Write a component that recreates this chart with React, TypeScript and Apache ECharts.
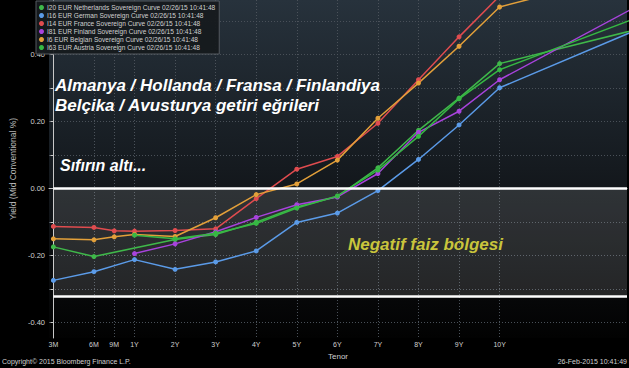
import React, { useEffect, useRef } from "react";
import * as echarts from "echarts";

// Tenor labels and their positions on the (irregular) Bloomberg tenor axis
const tenorLabels = ["3M", "6M", "9M", "1Y", "2Y", "3Y", "4Y", "5Y", "6Y", "7Y", "8Y", "9Y", "10Y", "15Y"];
const tenorPos = [0, 1, 1.5, 2, 3, 4, 5, 6, 7, 8, 9, 10, 11, 16];

// Yields (Mid Conventional %), null = no point for that tenor
const netherlands = [-0.174, -0.203, null, null, -0.152, -0.137, -0.1, -0.055, -0.024, 0.062, 0.174, 0.27, 0.373, 0.524];
const germany = [-0.274, -0.248, null, -0.212, -0.241, -0.219, -0.186, -0.101, -0.073, -0.006, 0.087, 0.19, 0.301, 0.557];
const france = [-0.113, -0.116, -0.126, -0.127, -0.125, -0.12, -0.03, 0.058, 0.096, 0.195, 0.325, 0.453, 0.575, 0.72];
const finland = [null, null, null, -0.194, -0.165, -0.129, -0.086, -0.048, -0.025, 0.045, 0.168, 0.231, 0.325, 0.649];
const belgium = [-0.15, -0.153, -0.144, -0.137, -0.143, -0.087, -0.018, 0.014, 0.085, 0.21, 0.315, 0.425, 0.542, 0.7];
const austria = [null, null, null, -0.139, -0.15, -0.133, -0.104, -0.058, -0.022, 0.055, 0.156, 0.268, 0.355, 0.584];

const seriesNames = [
  "I20 EUR Netherlands Sovereign Curve 02/26/15 10:41:48",
  "I16 EUR German Sovereign Curve 02/26/15 10:41:48",
  "I14 EUR France Sovereign Curve 02/26/15 10:41:48",
  "I81 EUR Finland Sovereign Curve 02/26/15 10:41:48",
  "I6 EUR Belgian Sovereign Curve 02/26/15 10:41:48",
  "I63 EUR Austria Sovereign Curve 02/26/15 10:41:48",
];
const seriesValues = [netherlands, germany, france, finland, belgium, austria];
const seriesColors = ["#3fb84a", "#5b9be8", "#e04c4f", "#a843dd", "#e3a03a", "#36b843"];

const yTickValues = [-0.4, -0.3, -0.2, -0.1, 0, 0.1, 0.2, 0.3, 0.4, 0.5];
const yLabelValues = [-0.4, -0.2, 0, 0.2, 0.4];
const xMin = -0.108;
const xMax = 14.14;
const yMin = -0.446;
const yMax = 0.563;
const negativeBandLow = -0.32;

const titleLine1 = "Almanya / Hollanda / Fransa / Finlandiya";
const titleLine2 = "Belçika / Avusturya getiri eğrileri";
const belowZeroText = "Sıfırın altı...";
const negativeZoneText = "Negatif faiz bölgesi";

export default function App() {
  const ref = useRef<HTMLDivElement>(null);

  useEffect(() => {
    if (!ref.current) return;
    const chart = echarts.init(ref.current, null, { renderer: "svg" });
    const labelFont = "Liberation Sans";

    const series: any[] = seriesNames.map((name, i) => {
      const pts: number[][] = [];
      seriesValues[i].forEach((v, j) => {
        if (v !== null) pts.push([tenorPos[j], v as number]);
      });
      return {
        type: "line",
        name,
        data: pts,
        symbol: "circle",
        symbolSize: 5,
        lineStyle: { width: 1.5, color: seriesColors[i] },
        itemStyle: { color: seriesColors[i] },
        z: 3,
      };
    });

    series[0].markArea = {
      silent: true,
      itemStyle: { color: "rgba(255,255,255,0.12)" },
      data: [[{ coord: [0, 0] }, { coord: [xMax, negativeBandLow] }]],
    };
    series[0].markLine = {
      silent: true,
      symbol: "none",
      label: { show: false },
      lineStyle: { color: "#ffffff", width: 2.5, type: "solid" },
      data: [
        [{ coord: [0, 0] }, { coord: [xMax, 0] }],
        [{ coord: [0, negativeBandLow] }, { coord: [xMax, negativeBandLow] }],
      ],
    };

    chart.setOption({
      animation: false,
      backgroundColor: "#000000",
      grid: {
        left: 33,
        right: 2,
        top: 0,
        bottom: 30,
        show: true,
        borderWidth: 0,
        backgroundColor: new echarts.graphic.LinearGradient(0, 0, 0, 1, [
          { offset: 0, color: "#27323c" },
          { offset: 0.5, color: "#151a1f" },
          { offset: 1, color: "#020202" },
        ]),
      },
      legend: {
        data: seriesNames,
        orient: "vertical",
        left: 36,
        top: 1,
        icon: "circle",
        itemWidth: 5,
        itemHeight: 5,
        itemGap: 1,
        padding: [3, 4, 3, 3],
        backgroundColor: "rgba(22,26,30,0.95)",
        borderColor: "#555a60",
        borderWidth: 1,
        selectedMode: false,
        textStyle: { color: "#d0d0d0", fontSize: 6.6, lineHeight: 7, fontFamily: labelFont, padding: [0, 0, 0, -2] },
      },
      xAxis: {
        type: "value",
        min: xMin,
        max: xMax,
        name: "Tenor",
        nameLocation: "middle",
        nameGap: 14,
        nameTextStyle: { color: "#d0d0d0", fontSize: 8, fontFamily: labelFont },
        axisLine: { show: true, lineStyle: { color: "#c8c8c8", width: 1 } },
        axisTick: { show: false, customValues: tenorPos.slice(0, 13) },
        axisLabel: {
          customValues: tenorPos.slice(0, 13),
          color: "#d0d0d0",
          fontSize: 7,
          fontFamily: labelFont,
          margin: 3,
          formatter: (v: number) => {
            const idx = tenorPos.indexOf(v);
            return idx >= 0 ? tenorLabels[idx] : "";
          },
        },
        splitLine: { show: true, lineStyle: { color: "#4b525a", type: [1, 2], width: 1 } },
      },
      yAxis: {
        type: "value",
        min: yMin,
        max: yMax,
        name: "Yield (Mid Conventional %)",
        nameLocation: "middle",
        nameGap: 24,
        nameTextStyle: { color: "#b8b8b8", fontSize: 8.5, fontFamily: labelFont },
        axisLine: { show: true, lineStyle: { color: "#c8c8c8", width: 1 } },
        axisTick: { show: true, length: 3, customValues: yTickValues, lineStyle: { color: "#c8c8c8" } },
        axisLabel: {
          customValues: yLabelValues,
          color: "#d0d0d0",
          fontSize: 7.5,
          fontFamily: labelFont,
          margin: 4,
          formatter: (v: number) => v.toFixed(2),
        },
        splitLine: { show: true, lineStyle: { color: "#4b525a", type: [1, 2], width: 1 } },
      },
      graphic: [
        {
          type: "text",
          left: 55,
          top: 77,
          z: 10,
          style: {
            text: titleLine1,
            fill: "#ffffff",
            font: `italic bold 17px "${labelFont}"`,
          },
        },
        {
          type: "text",
          left: 55,
          top: 97,
          z: 10,
          style: {
            text: titleLine2,
            fill: "#ffffff",
            font: `italic bold 17px "${labelFont}"`,
          },
        },
        {
          type: "text",
          left: 60,
          top: 157,
          z: 10,
          style: {
            text: belowZeroText,
            fill: "#ffffff",
            font: `italic bold 16px "${labelFont}"`,
          },
        },
        {
          type: "text",
          left: 348,
          top: 236,
          z: 10,
          style: {
            text: negativeZoneText,
            fill: "#c9c53c",
            font: `italic bold 17px "${labelFont}"`,
          },
        },
        {
          type: "text",
          left: 2,
          top: 358,
          style: {
            text: "Copyright© 2015 Bloomberg Finance L.P.",
            fill: "#d0d0d0",
            font: `7px "${labelFont}"`,
          },
        },
        {
          type: "text",
          right: 2,
          top: 358,
          style: {
            text: "26-Feb-2015 10:41:49",
            fill: "#d0d0d0",
            font: `7px "${labelFont}"`,
          },
        },
      ],
      series,
    });

    return () => chart.dispose();
  }, []);

  return (
    <div
      ref={ref}
      style={{ position: "fixed", left: 0, top: 0, width: 629, height: 368, background: "#000" }}
    />
  );
}
